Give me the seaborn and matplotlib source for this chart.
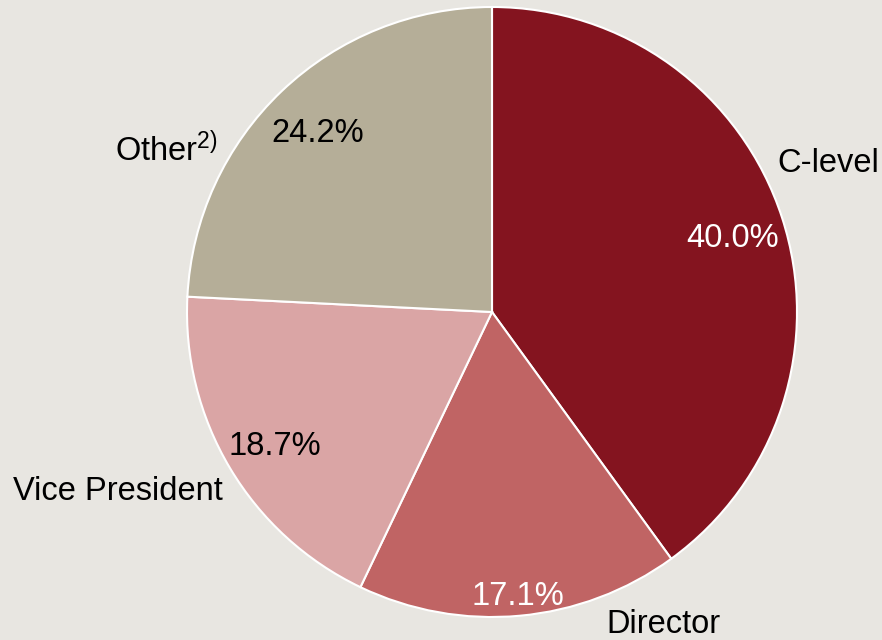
import numpy as np
import matplotlib.pyplot as plt
import seaborn as sns

categories = ['C-level', 'Director', 'Vice President', 'Other$^{2)}$']
shares = [40.0, 17.1, 18.7, 24.2]
colors = ['#84141f', '#c06464', '#daa5a5', '#b5ae98']
pct_colors = ['white', 'white', 'black', 'black']

# label placement (data units, pie radius = 1)
label_pos = [(1.102, 0.486), (0.561, -1.024), (-1.226, -0.589), (-1.069, 0.533)]
pct_dist = [0.83, 0.92, 0.83, 0.83]

sns.set_theme(style='white')
plt.rcParams['font.family'] = ['Liberation Sans', 'DejaVu Sans']
plt.rcParams['mathtext.fontset'] = 'custom'
plt.rcParams['mathtext.rm'] = 'Liberation Sans'
plt.rcParams['mathtext.it'] = 'Liberation Sans'

bg = '#e8e6e1'
fs = 23.5
fig = plt.figure(figsize=(8.82, 6.4), dpi=100, facecolor=bg)
r = 305
ax = fig.add_axes([(492 - r) / 882, (640 - 312 - r) / 640, 2 * r / 882, 2 * r / 640])
ax.set_facecolor(bg)

wedges, _ = ax.pie(shares, colors=colors, startangle=90, counterclock=False,
                   wedgeprops=dict(edgecolor='white', linewidth=1.5), radius=1)
ax.set_xlim(-1, 1)
ax.set_ylim(-1, 1)
ax.axis('off')

for w, val, d, c in zip(wedges, shares, pct_dist, pct_colors):
    ang = np.deg2rad((w.theta1 + w.theta2) / 2)
    ax.text(d * np.cos(ang), d * np.sin(ang) - 0.017, f'{val:.1f}%', color=c,
            fontsize=fs, ha='center', va='center')

for name, (x, y) in zip(categories, label_pos):
    ax.text(x, y, name, fontsize=fs, ha='center', va='center', color='black')

fig.savefig('out.png', dpi=100, facecolor=bg)
